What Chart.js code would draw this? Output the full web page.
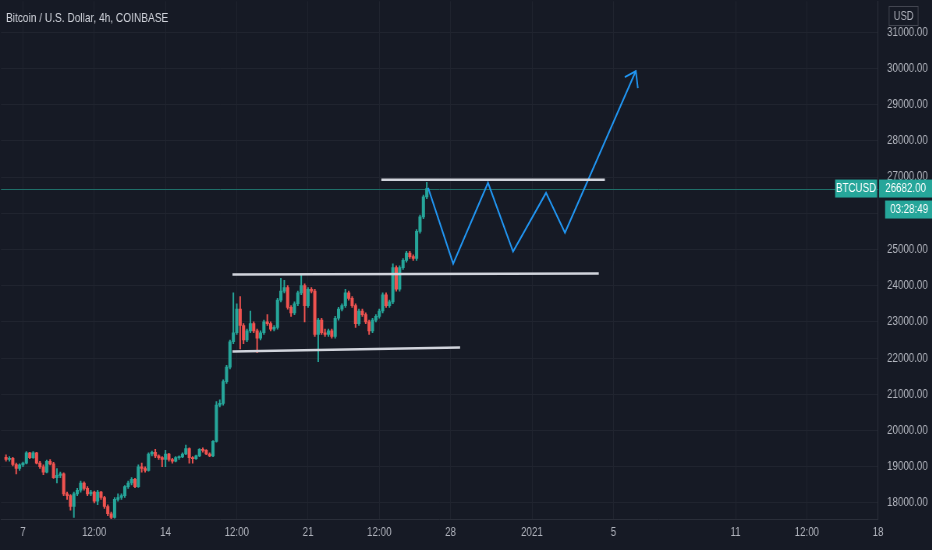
<!DOCTYPE html>
<html>
<head>
<meta charset="utf-8">
<script src="https://cdn.jsdelivr.net/npm/chart.js@4.4.0/dist/chart.umd.min.js"></script>
<style>
html, body { margin: 0; padding: 0; background: #161a25; overflow: hidden; }
/* the snapshot is horizontally squeezed, so the chart is drawn wider and scaled down */
#wrap { position: relative; width: 1195px; height: 550px; transform: scaleX(0.78); transform-origin: 0 0; }
</style>
</head>
<body>
<div id="wrap"><canvas id="chart"></canvas></div>
<script>
var SX = 0.78;

// BTCUSD 4h candles, Dec 6 04:00 .. Dec 26 20:00 (x = days since Dec 7 00:00)
var firstCandleHour = -20;
var candleHours = 4;

var opens = [
    19260,19200,19230,19060,18950,19050,19100,19380,19250,19380,
    19100,19000,18850,19150,19080,18700,18760,18800,18250,18200,
    17900,18250,18350,18550,18400,18250,18300,18050,18300,18150,
    17900,17700,17600,18100,18150,18200,18450,18550,18650,18450,
    19000,18950,18900,19350,19400,19300,19250,19200,19350,19200,
    19150,19250,19270,19350,19500,19250,19220,19300,19480,19450,
    19350,19300,19700,20700,20750,21350,21750,22450,22700,23350,
    22900,22500,22750,22950,22750,22550,22700,23000,22950,22800,
    22850,23600,23850,23950,23400,23250,23500,23800,24000,23450,
    23900,23850,22650,23050,22700,22650,22750,22600,23100,23350,
    23450,23800,23650,23450,22950,23300,23200,23000,22750,23050,
    23150,23300,23750,23450,23550,24500,23900,24500,24700,24900,
    24800,24750,25500,25900,26450
];
var highs = [
    19330,19280,19260,19100,19080,19130,19420,19400,19420,19400,
    19150,19050,19180,19200,19120,18950,18850,18830,18300,18230,
    18300,18400,18600,18580,18450,18350,18330,18350,18320,18180,
    17950,17750,18150,18250,18250,18480,18600,18700,18680,19050,
    19100,19000,19380,19430,19480,19330,19280,19450,19370,19230,
    19280,19300,19380,19600,19520,19280,19320,19500,19520,19470,
    19380,19720,20800,20850,21400,21800,22500,23800,23500,23700,
    22950,22800,23300,23000,22800,22750,23050,23200,23000,22900,
    23650,24200,24150,24000,23450,23550,23850,24300,24050,23950,
    23950,23900,23100,23100,22800,22800,22800,23150,23400,23500,
    23900,23850,23700,23500,23350,23350,23250,23050,23100,23200,
    23350,23800,23800,23600,24600,24550,24550,24750,24950,24950,
    24850,25550,25950,26500,26850
];
var lows = [
    19150,19150,19020,18800,18900,19000,19080,19220,19230,19080,
    18950,18780,18830,19050,18680,18550,18700,18200,18100,17800,
    17600,18200,18300,18350,18200,18200,18000,17950,18100,17850,
    17650,17560,17580,18050,18100,18150,18400,18500,18420,18430,
    18850,18850,18880,19300,19250,19200,19000,19000,19150,19100,
    19130,19200,19250,19330,19100,19100,19200,19280,19400,19330,
    19280,19280,19680,20650,20700,21300,21700,22400,22650,22250,
    22400,22450,22700,22700,22150,22500,22650,22900,22750,22750,
    22800,23550,23800,23350,23150,23200,23450,23750,23000,23400,
    23800,22600,21900,22650,22600,22600,22550,22550,23050,23300,
    23400,23600,23400,22850,22900,23150,22950,22650,22700,23000,
    23100,23250,23400,23400,23500,23850,23850,24450,24650,24750,
    24700,24700,25450,25850,26400
];
var closes = [
    19200,19230,19060,18950,19050,19100,19380,19250,19380,19100,
    19000,18850,19150,19080,18700,18760,18800,18250,18200,17900,
    18250,18350,18550,18400,18250,18300,18050,18300,18150,17900,
    17700,17600,18100,18150,18200,18450,18550,18650,18450,19000,
    18950,18900,19350,19400,19300,19250,19200,19350,19200,19150,
    19250,19270,19350,19500,19250,19220,19300,19480,19450,19350,
    19300,19700,20700,20750,21350,21750,22450,22700,23350,22900,
    22500,22750,22950,22750,22550,22700,23000,22950,22800,22850,
    23600,23850,23950,23400,23250,23500,23800,24000,23450,23900,
    23850,22650,23050,22700,22650,22750,22600,23100,23350,23450,
    23800,23650,23450,22950,23300,23200,23000,22750,23050,23150,
    23300,23750,23450,23550,24500,23900,24500,24700,24900,24800,
    24750,25500,25900,26450,26682
];

// drawings (x in days since Dec 7, y in USD)
var lineTop = [{x: 17.6, y: 26923}, {x: 28.58, y: 26923}];
var lineMiddle = [{x: 10.29, y: 24306}, {x: 28.28, y: 24333}];
var lineBottom = [{x: 10.29, y: 22184}, {x: 21.47, y: 22294}];
var projection = [
    {x: 19.9, y: 26702}, {x: 21.13, y: 24608}, {x: 22.84, y: 26840},
    {x: 24.07, y: 24939}, {x: 25.69, y: 26564}, {x: 26.62, y: 25463},
    {x: 30.1, y: 29926}
];
var arrowHead = [{x: 29.56, y: 29760}, {x: 30.1, y: 29926}, {x: 30.2, y: 29457}];

var xTickValues = [0, 3.5, 7, 10.5, 14, 17.5, 21, 25, 29, 35, 38.5, 42];
var xTickLabels = ['7', '12:00', '14', '12:00', '21', '12:00', '28', '2021', '5', '11', '12:00', '18'];
var yTickValues = [18000, 19000, 20000, 21000, 22000, 23000, 24000, 25000, 26000, 27000, 28000, 29000, 30000, 31000];

var title = 'Bitcoin / U.S. Dollar, 4h, COINBASE';
var symbol = 'BTCUSD';
var countdown = '03:28:49';

var upColor = '#26a69a';
var downColor = '#ef5350';
var font = "'Liberation Sans', Arial, sans-serif";

var bodies = [], wicks = [], colors = [];
for (var i = 0; i < closes.length; i++) {
    var t = (firstCandleHour + i * candleHours) / 24;
    bodies.push({x: t, y: [opens[i], closes[i]]});
    wicks.push({x: t, y: [lows[i], highs[i]]});
    colors.push(closes[i] >= opens[i] ? upColor : downColor);
}
var lastPrice = closes[closes.length - 1];

function drawing(data, color, width) {
    return {
        type: 'line',
        data: data,
        borderColor: color,
        borderWidth: width,
        pointRadius: 0,
        tension: 0,
        fill: false,
        order: 0
    };
}

var overlay = {
    id: 'overlay',
    beforeDraw: function(chart) {
        var ctx = chart.ctx;
        ctx.save();
        ctx.fillStyle = '#161a25';
        ctx.fillRect(0, 0, chart.width, chart.height);
        ctx.restore();
    },
    beforeDatasetsDraw: function(chart) {
        var ctx = chart.ctx, area = chart.chartArea;
        var y = Math.round(chart.scales.y.getPixelForValue(lastPrice)) + 0.5;
        ctx.save();
        ctx.strokeStyle = '#1f6f69';
        ctx.lineWidth = 1;
        ctx.beginPath();
        ctx.moveTo(area.left, y);
        ctx.lineTo(area.right, y);
        ctx.stroke();
        ctx.restore();
    },
    afterDraw: function(chart) {
        var ctx = chart.ctx, area = chart.chartArea;
        var y = chart.scales.y.getPixelForValue(lastPrice);
        var r = area.right;
        ctx.save();
        // title
        ctx.font = '13px ' + font;
        ctx.fillStyle = '#d1d4dc';
        ctx.textBaseline = 'middle';
        ctx.textAlign = 'left';
        ctx.fillText(title, 6 / SX, 18);

        // USD box
        ctx.fillStyle = '#161a25';
        ctx.fillRect(r + 11 / SX, 6, 30 / SX, 20);
        ctx.strokeStyle = '#434651';
        ctx.lineWidth = 1;
        ctx.strokeRect(r + 11 / SX, 6.5, 29 / SX, 19);
        ctx.fillStyle = '#b2b5be';
        ctx.textAlign = 'center';
        ctx.font = '12px ' + font;
        ctx.fillText('USD', r + 25.5 / SX, 16.5);

        // symbol, price and countdown labels
        ctx.fillStyle = upColor;
        ctx.fillRect(r - 43 / SX, y - 9, 42 / SX, 18);
        ctx.fillRect(r + 1 / SX, y - 9, chart.width - r - 1 / SX, 18);
        ctx.fillRect(r + 7 / SX, y + 12, chart.width - r - 7 / SX, 18);
        ctx.fillStyle = '#ffffff';
        ctx.font = '12.5px ' + font;
        ctx.fillText(symbol, r - 22 / SX, y + 0.5);
        ctx.fillText(lastPrice.toFixed(2), r + 27.5 / SX, y + 0.5);
        ctx.fillText(countdown, r + 31 / SX, y + 21.5);
        ctx.restore();
    }
};

new Chart(document.getElementById('chart'), {
    type: 'bar',
    data: {
        datasets: [
            drawing(lineTop, '#d1d4dc', 2.5),
            drawing(lineMiddle, '#d1d4dc', 2.5),
            drawing(lineBottom, '#d1d4dc', 2.5),
            drawing(projection, '#2196f3', 2),
            drawing(arrowHead, '#2196f3', 2),
            {
                type: 'bar',
                data: bodies,
                backgroundColor: colors,
                barThickness: 3.4,
                minBarLength: 1,
                grouped: false,
                borderWidth: 0,
                order: 1
            },
            {
                type: 'bar',
                data: wicks,
                backgroundColor: colors,
                barThickness: 1.3,
                grouped: false,
                borderWidth: 0,
                order: 2
            }
        ]
    },
    options: {
        responsive: true,
        maintainAspectRatio: false,
        animation: false,
        devicePixelRatio: 1,
        layout: { padding: 0 },
        plugins: {
            legend: { display: false },
            tooltip: { enabled: false },
            title: { display: false }
        },
        scales: {
            x: {
                type: 'linear',
                min: -1.08,
                max: 42,
                offset: false,
                afterBuildTicks: function(scale) {
                    scale.ticks = xTickValues.map(function(v) { return {value: v}; });
                },
                afterFit: function(scale) {
                    scale.height = 31;
                    scale.paddingLeft = 0;
                    scale.paddingRight = 0;
                },
                ticks: {
                    color: '#b2b5be',
                    font: { family: font, size: 12.5 },
                    padding: 6,
                    maxRotation: 0,
                    autoSkip: false,
                    callback: function(value) {
                        var k = xTickValues.indexOf(value);
                        return k >= 0 ? xTickLabels[k] : '';
                    }
                },
                grid: { color: '#20242f', drawTicks: false, offset: false },
                border: { display: true, color: '#2a2e39' }
            },
            y: {
                position: 'right',
                min: 17556,
                max: 31854,
                afterBuildTicks: function(scale) {
                    scale.ticks = yTickValues.map(function(v) { return {value: v}; });
                },
                afterFit: function(scale) {
                    scale.width = 54 / SX;
                    scale.paddingTop = 0;
                    scale.paddingBottom = 0;
                },
                ticks: {
                    color: '#b2b5be',
                    font: { family: font, size: 12.5 },
                    padding: 9 / SX,
                    callback: function(value) { return value.toFixed(2); }
                },
                grid: { color: '#20242f', drawTicks: false },
                border: { display: true, color: '#2a2e39' }
            }
        }
    },
    plugins: [overlay]
});
</script>
</body>
</html>
